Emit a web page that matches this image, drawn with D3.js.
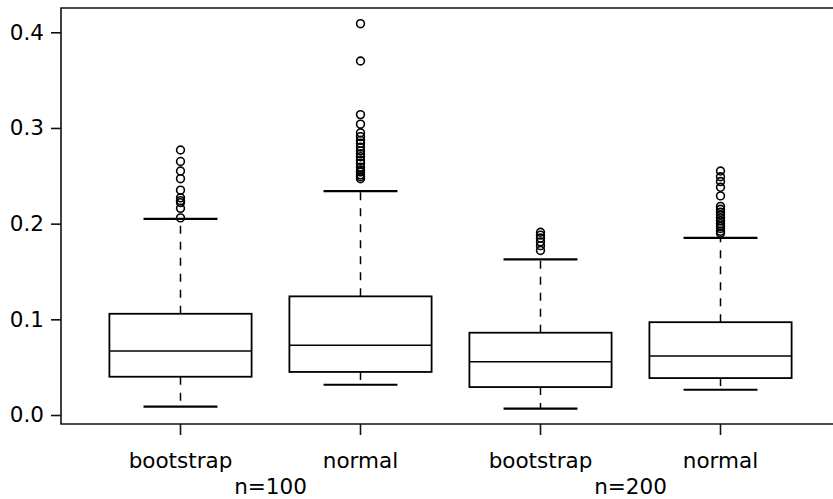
<!DOCTYPE html>
<html>
<head>
<meta charset="utf-8">
<script src="https://cdn.jsdelivr.net/npm/d3@7"></script>
<style>
  body { margin: 0; background: #fff; }
  text { font-family: "DejaVu Sans", sans-serif; fill: #000; }
</style>
</head>
<body>
<div id="chart"></div>
<script>
// box statistics, one entry per box (left to right)
const methods = ["bootstrap", "normal", "bootstrap", "normal"];
const groups = ["n=100", "n=200"];
const whiskLow = [0.0087, 0.0316, 0.0066, 0.0264];
const q1 = [0.040, 0.045, 0.0292, 0.0386];
const median = [0.0668, 0.073, 0.0557, 0.0616];
const q3 = [0.1058, 0.124, 0.086, 0.097];
const whiskHigh = [0.205, 0.234, 0.1626, 0.1852];
const outliers = [
    [0.277, 0.265, 0.255, 0.247, 0.235, 0.227, 0.224, 0.222, 0.216, 0.206],
    [0.409, 0.370, 0.314, 0.304, 0.295, 0.291, 0.287, 0.284, 0.280, 0.276,
     0.273, 0.270, 0.266, 0.263, 0.259, 0.256, 0.254, 0.251, 0.249, 0.247],
    [0.191, 0.188, 0.185, 0.181, 0.177, 0.172],
    [0.255, 0.249, 0.244, 0.238, 0.229, 0.218, 0.215, 0.212, 0.209, 0.206,
     0.203, 0.200, 0.197, 0.195, 0.192, 0.190]
];
const yTicks = [0.0, 0.1, 0.2, 0.3, 0.4];

const width = 833, height = 499;
const frame = { left: 61, top: 8, bottom: 424 };

const svg = d3.select("#chart")
    .append("svg")
    .attr("width", width)
    .attr("height", height)
    .style("background-color", "#ffffff");

const keys = methods.map((m, i) => i);
const x = d3.scaleBand()
    .domain(keys)
    .range([90.5, 810.5])
    .paddingInner(0.21)
    .paddingOuter(0.105);

const y = d3.scaleLinear()
    .domain([0, 0.4])
    .range([415, 32.3]);

// frame (left, top, bottom; right side runs off the picture)
svg.append("path")
    .attr("d", `M${width + 5},${frame.top}H${frame.left}V${frame.bottom}H${width + 5}`)
    .attr("fill", "none")
    .attr("stroke", "#111")
    .attr("stroke-width", 1.6);

// y axis
const yAxis = svg.append("g")
    .attr("transform", `translate(${frame.left},0)`)
    .call(d3.axisLeft(y).tickValues(yTicks).tickFormat(d3.format(".1f")).tickSize(10).tickPadding(7));
yAxis.select(".domain").remove();
yAxis.selectAll("line").attr("stroke", "#111").attr("stroke-width", 1.6);
yAxis.selectAll("text")
    .style("font-family", "DejaVu Sans, sans-serif")
    .style("font-size", "21.5px")
    .attr("fill", "#000");

// x axis
const xAxis = svg.append("g")
    .attr("transform", `translate(0,${frame.bottom})`)
    .call(d3.axisBottom(x).tickFormat((i) => methods[i]).tickSize(11).tickPadding(18));
xAxis.select(".domain").remove();
xAxis.selectAll("line").attr("stroke", "#111").attr("stroke-width", 1.6);
xAxis.selectAll("text")
    .style("font-family", "DejaVu Sans, sans-serif")
    .style("font-size", "21.5px")
    .attr("fill", "#000");

// group labels centred between each pair
groups.forEach((g, gi) => {
    const cx = (x(gi * 2) + x(gi * 2 + 1) + x.bandwidth()) / 2;
    svg.append("text")
        .attr("x", cx)
        .attr("y", 494)
        .attr("text-anchor", "middle")
        .style("font-size", "21.5px")
        .text(g);
});

// boxes
const box = svg.selectAll("g.box")
    .data(keys)
    .enter()
    .append("g")
    .attr("class", "box");

const bw = x.bandwidth();
const cx = (i) => x(i) + bw / 2;

// dashed whiskers
box.append("line")
    .attr("x1", cx).attr("x2", cx)
    .attr("y1", (i) => y(q3[i])).attr("y2", (i) => y(whiskHigh[i]))
    .attr("stroke", "#000").attr("stroke-width", 1.5)
    .attr("stroke-dasharray", "8,8");
box.append("line")
    .attr("x1", cx).attr("x2", cx)
    .attr("y1", (i) => y(q1[i])).attr("y2", (i) => y(whiskLow[i]))
    .attr("stroke", "#000").attr("stroke-width", 1.5)
    .attr("stroke-dasharray", "8,8");

// whisker caps
[whiskHigh, whiskLow].forEach((arr) => {
    box.append("line")
        .attr("x1", (i) => cx(i) - bw * 0.26)
        .attr("x2", (i) => cx(i) + bw * 0.26)
        .attr("y1", (i) => y(arr[i])).attr("y2", (i) => y(arr[i]))
        .attr("stroke", "#000").attr("stroke-width", 2.2);
});

box.append("rect")
    .attr("x", (i) => x(i))
    .attr("width", bw)
    .attr("y", (i) => y(q3[i]))
    .attr("height", (i) => y(q1[i]) - y(q3[i]))
    .attr("fill", "#fff")
    .attr("stroke", "#000")
    .attr("stroke-width", 1.8);

box.append("line")
    .attr("x1", (i) => x(i)).attr("x2", (i) => x(i) + bw)
    .attr("y1", (i) => y(median[i])).attr("y2", (i) => y(median[i]))
    .attr("stroke", "#000").attr("stroke-width", 1.5);

// outliers
box.each(function (i) {
    d3.select(this).selectAll("circle")
        .data(outliers[i])
        .enter()
        .append("circle")
        .attr("cx", cx(i))
        .attr("cy", (d) => y(d))
        .attr("r", 3.9)
        .attr("fill", "none")
        .attr("stroke", "#000")
        .attr("stroke-width", 1.6);
});
</script>
</body>
</html>
